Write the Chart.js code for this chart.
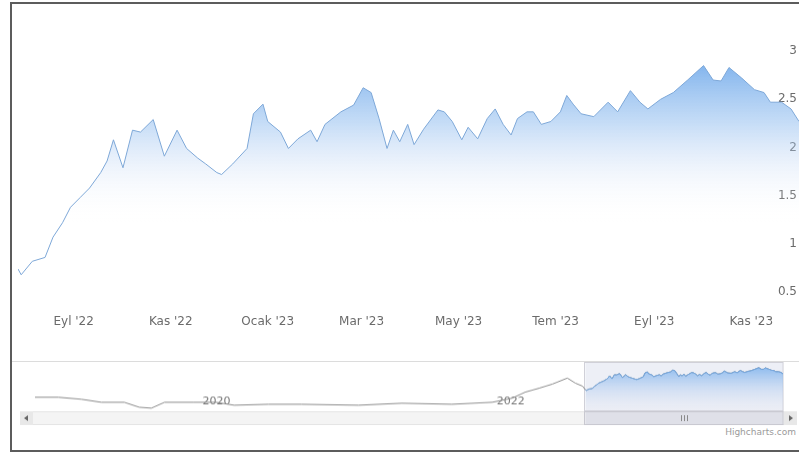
<!DOCTYPE html>
<html lang="tr">
<head>
<meta charset="utf-8">
<title>Grafik</title>
<script src="https://cdn.jsdelivr.net/npm/chart.js@4.4.1/dist/chart.umd.min.js"></script>
<style>
  html, body { margin: 0; padding: 0; background: #fff; overflow: hidden; }
  body { width: 799px; height: 454px; position: relative; font-family: "DejaVu Sans", Verdana, sans-serif; }
  #frame { position: absolute; left: 10px; top: 2px; width: 800px; height: 450px; border: 2px solid #5c5c5c; border-right: none; box-sizing: border-box; }
  #main { position: absolute; left: 12px; top: 4px; }
  #nav { position: absolute; left: 12px; top: 361px; border-top: 1px solid #dcdcdc; }
  #credits { position: absolute; right: 3px; top: 427px; font-size: 9px; color: #9a9a9a; }
</style>
</head>
<body>
<div id="frame"></div>
<canvas id="main" width="787" height="356"></canvas>
<canvas id="nav" width="787" height="66"></canvas>
<div id="credits">Highcharts.com</div>
<script>
// visible range (main chart)
const mainDates = [
  '2022-07-28', '2022-07-30', '2022-08-06', '2022-08-14', '2022-08-19', '2022-08-25', '2022-08-30', '2022-09-05', '2022-09-11', '2022-09-18',
  '2022-09-22', '2022-09-26', '2022-10-02', '2022-10-08', '2022-10-13', '2022-10-21', '2022-10-28', '2022-11-05', '2022-11-11', '2022-11-18',
  '2022-11-23', '2022-11-30', '2022-12-03', '2022-12-10', '2022-12-19', '2022-12-23', '2022-12-29', '2023-01-01', '2023-01-09', '2023-01-14',
  '2023-01-20', '2023-01-28', '2023-02-01', '2023-02-06', '2023-02-16', '2023-02-24', '2023-03-02', '2023-03-07', '2023-03-12', '2023-03-17',
  '2023-03-21', '2023-03-25', '2023-03-30', '2023-04-03', '2023-04-09', '2023-04-18', '2023-04-22', '2023-04-27', '2023-05-03', '2023-05-07',
  '2023-05-13', '2023-05-19', '2023-05-24', '2023-05-29', '2023-06-03', '2023-06-07', '2023-06-13', '2023-06-17', '2023-06-22', '2023-06-28',
  '2023-07-04', '2023-07-08', '2023-07-12', '2023-07-17', '2023-07-25', '2023-08-03', '2023-08-09', '2023-08-17', '2023-08-23', '2023-08-28',
  '2023-09-05', '2023-09-13', '2023-09-22', '2023-10-02', '2023-10-08', '2023-10-13', '2023-10-18', '2023-10-26', '2023-11-03', '2023-11-09',
  '2023-11-13', '2023-11-20', '2023-11-26', '2023-12-01'
];
const mainValues = [
  0.74, 0.68, 0.82, 0.86, 1.07, 1.22, 1.38, 1.48, 1.58, 1.74,
  1.86, 2.08, 1.79, 2.18, 2.16, 2.29, 1.91, 2.18, 1.99, 1.89,
  1.83, 1.74, 1.72, 1.83, 1.99, 2.35, 2.45, 2.27, 2.16, 1.99,
  2.09, 2.18, 2.06, 2.24, 2.37, 2.44, 2.62, 2.57, 2.30, 1.99,
  2.18, 2.06, 2.24, 2.03, 2.19, 2.39, 2.37, 2.27, 2.08, 2.21,
  2.09, 2.30, 2.40, 2.24, 2.13, 2.30, 2.37, 2.37, 2.24, 2.27,
  2.37, 2.54, 2.45, 2.35, 2.32, 2.47, 2.37, 2.59, 2.47, 2.40,
  2.50, 2.57, 2.70, 2.85, 2.70, 2.69, 2.83, 2.72, 2.60, 2.57,
  2.47, 2.47, 2.40, 2.27
];

// older history, only shown in the navigator
const historyDates = [
  '2018-10-29', '2018-12-26', '2019-02-21', '2019-04-12', '2019-06-08', '2019-07-15', '2019-08-14', '2019-09-16',
  '2019-11-28', '2020-01-22', '2020-03-07', '2020-05-31', '2020-08-21', '2021-01-10', '2021-04-28', '2021-08-30',
  '2021-12-08', '2022-01-27', '2022-02-28', '2022-04-04', '2022-05-07', '2022-06-13', '2022-07-03', '2022-07-21'
];
const historyValues = [
  0.04, 0.04, -0.15, -0.44, -0.44, -0.91, -1.0, -0.44,
  -0.44, -0.44, -0.72, -0.63, -0.63, -0.72, -0.53, -0.63,
  -0.44, -0.05, 0.52, 0.90, 1.29, 1.86, 1.38, 1.09
];

const monthTicks = ['2022-09-01', '2022-11-01', '2023-01-01', '2023-03-01', '2023-05-01', '2023-07-01', '2023-09-01', '2023-11-01'];
const monthLabels = ["Eyl '22", "Kas '22", "Ocak '23", "Mar '23", "May '23", "Tem '23", "Eyl '23", "Kas '23"];
const yearTicks = ['2020-01-01', '2022-01-01'];
const yearLabels = ['2020', '2022'];
const yTicks = [0.5, 1, 1.5, 2, 2.5, 3];

const toMs = (d) => Date.parse(d + 'T00:00:00Z');
const labelFont = { family: 'DejaVu Sans', size: 12 };

const mainPoints = mainDates.map((d, i) => ({ x: toMs(d), y: mainValues[i] }));
const allValues = historyValues.concat(mainValues);
const navPoints = historyDates.concat(mainDates).map((d, i) => ({ x: toMs(d), y: allValues[i] }));

const areaFill = (context) => {
  const { ctx, chartArea } = context.chart;
  if (!chartArea) return null;
  const g = ctx.createLinearGradient(0, chartArea.top + 30, 0, chartArea.top + 195);
  g.addColorStop(0, 'rgba(96, 160, 232, 0.85)');
  g.addColorStop(0.4, 'rgba(140, 186, 238, 0.5)');
  g.addColorStop(0.7, 'rgba(200, 218, 245, 0.25)');
  g.addColorStop(1, 'rgba(255, 255, 255, 0)');
  return g;
};

new Chart(document.getElementById('main'), {
  type: 'line',
  data: {
    datasets: [{
      data: mainPoints,
      borderColor: '#7ea8d8',
      borderWidth: 1,
      pointRadius: 0,
      fill: 'start',
      backgroundColor: areaFill,
    }],
  },
  options: {
    responsive: false,
    animation: false,
    layout: { padding: { left: 6, right: 0, top: 23, bottom: 31 } },
    plugins: { legend: { display: false }, tooltip: { enabled: false } },
    scales: {
      x: {
        type: 'linear',
        min: toMs(mainDates[0]),
        max: toMs(mainDates[mainDates.length - 1]),
        afterBuildTicks: (scale) => { scale.ticks = monthTicks.map((d) => ({ value: toMs(d) })); },
        grid: { display: false },
        border: { display: false },
        ticks: {
          autoSkip: false,
          maxRotation: 0,
          padding: 0,
          color: '#6b6b6b',
          font: labelFont,
          callback: (value, index) => monthLabels[index],
        },
      },
      y: {
        type: 'linear',
        position: 'right',
        min: 0.35,
        max: 3.25,
        afterBuildTicks: (scale) => { scale.ticks = yTicks.map((v) => ({ value: v })); },
        afterFit: (scale) => { scale.width = 0; },
        grid: { display: false },
        border: { display: false },
        ticks: {
          mirror: true,
          padding: -2,
          color: '#6b6b6b',
          font: labelFont,
          callback: (value) => String(value),
        },
      },
    },
  },
});

const navFill = (context) => {
  const { ctx, chartArea } = context.chart;
  if (!chartArea) return null;
  const g = ctx.createLinearGradient(0, chartArea.top, 0, chartArea.bottom);
  g.addColorStop(0, 'rgba(100, 165, 235, 0.8)');
  g.addColorStop(0.6, 'rgba(170, 200, 240, 0.35)');
  g.addColorStop(1, 'rgba(220, 225, 240, 0.1)');
  return g;
};

// selection box and scrollbar under the navigator
const navigatorParts = {
  id: 'navigatorParts',
  beforeDatasetsDraw(chart) {
    const { ctx, chartArea, scales } = chart;
    const x0 = scales.x.getPixelForValue(toMs(mainDates[0]));
    const x1 = scales.x.getPixelForValue(toMs(mainDates[mainDates.length - 1]));
    ctx.save();
    ctx.fillStyle = 'rgba(214, 219, 236, 0.45)';
    ctx.fillRect(x0, 0, x1 - x0, chartArea.bottom);
    ctx.strokeStyle = '#d0d0d8';
    ctx.strokeRect(Math.round(x0) - 0.5, 0.5, x1 - x0 + 1, chartArea.bottom);
    ctx.restore();
  },
  afterDraw(chart) {
    const { ctx, chartArea, scales } = chart;
    const x0 = scales.x.getPixelForValue(toMs(mainDates[0]));
    const x1 = scales.x.getPixelForValue(toMs(mainDates[mainDates.length - 1]));
    const y = chartArea.bottom + 1;
    const h = 14;
    ctx.save();
    // track
    ctx.fillStyle = '#f4f4f4';
    ctx.fillRect(8, y, 777, h);
    ctx.strokeStyle = '#e4e4e4';
    ctx.strokeRect(8.5, y + 0.5, 776, h - 1);
    // buttons
    ctx.fillStyle = '#e8e8e8';
    ctx.fillRect(8, y, 13, h);
    ctx.fillRect(772, y, 13, h);
    ctx.fillStyle = '#666';
    ctx.beginPath();
    ctx.moveTo(12, y + h / 2); ctx.lineTo(16, y + h / 2 - 3); ctx.lineTo(16, y + h / 2 + 3); ctx.closePath();
    ctx.moveTo(781, y + h / 2); ctx.lineTo(777, y + h / 2 - 3); ctx.lineTo(777, y + h / 2 + 3); ctx.closePath();
    ctx.fill();
    // thumb
    ctx.fillStyle = '#dfe0e8';
    ctx.fillRect(x0, y, x1 - x0, h);
    ctx.strokeStyle = '#c8c8d0';
    ctx.strokeRect(Math.round(x0) - 0.5, y + 0.5, x1 - x0 + 1, h - 1);
    const mid = Math.round((x0 + x1) / 2);
    ctx.strokeStyle = '#8a8a8a';
    ctx.beginPath();
    for (const dx of [-3, 0, 3]) {
      ctx.moveTo(mid + dx + 0.5, y + 4);
      ctx.lineTo(mid + dx + 0.5, y + h - 4);
    }
    ctx.stroke();
    ctx.restore();
  },
};

new Chart(document.getElementById('nav'), {
  type: 'line',
  data: {
    datasets: [
      {
        data: mainPoints,
        borderColor: '#72a6e0',
        borderWidth: 1,
        pointRadius: 0,
        fill: 'start',
        backgroundColor: navFill,
      },
      {
        data: navPoints,
        borderColor: '#8c8c8c',
        borderWidth: 1,
        pointRadius: 0,
        fill: false,
      },
    ],
  },
  options: {
    responsive: false,
    animation: false,
    layout: { padding: { left: 23, right: 16, top: 2, bottom: 17 } },
    plugins: { legend: { display: false }, tooltip: { enabled: false } },
    scales: {
      x: {
        type: 'linear',
        position: { y: 0.95 },
        min: toMs(historyDates[0]),
        max: toMs(mainDates[mainDates.length - 1]),
        afterBuildTicks: (scale) => { scale.ticks = yearTicks.map((d) => ({ value: toMs(d) })); },
        grid: { display: false },
        border: { display: false },
        ticks: {
          align: 'start',
          autoSkip: false,
          maxRotation: 0,
          padding: 0,
          labelOffset: -5,
          color: '#777',
          font: { family: 'DejaVu Sans', size: 11 },
          callback: (value, index) => yearLabels[index],
        },
      },
      y: { type: 'linear', display: false, min: -1.2, max: 3.2 },
    },
  },
  plugins: [navigatorParts],
});
</script>
</body>
</html>
